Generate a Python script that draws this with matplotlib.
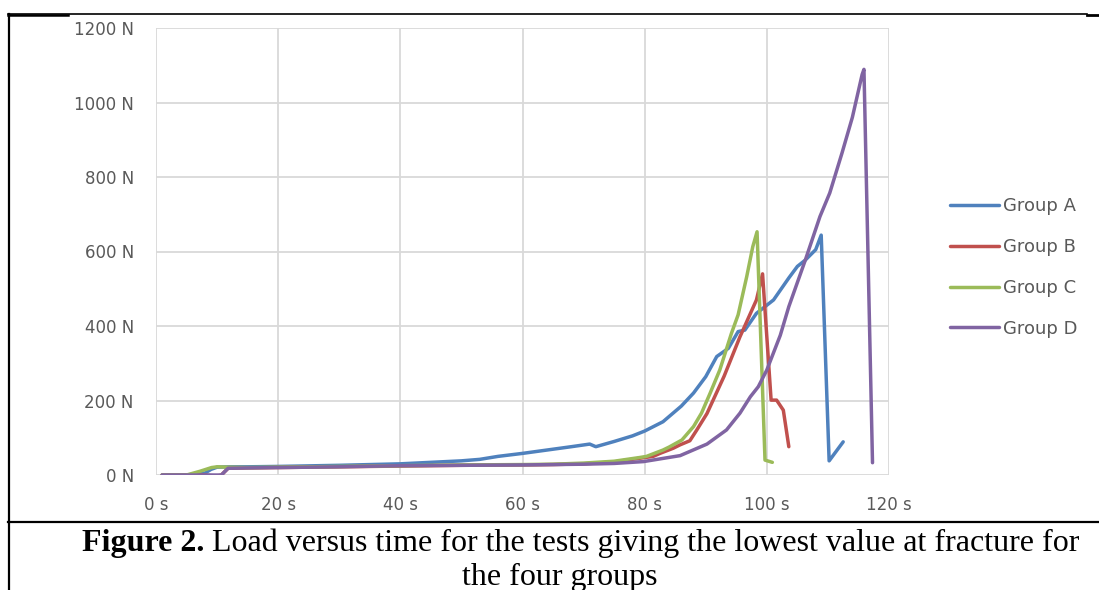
import numpy as np
import matplotlib
matplotlib.use('Agg')
import matplotlib.pyplot as plt
from matplotlib.lines import Line2D

# load vs time
t_a = [1, 5, 8, 9, 10, 12, 15, 20, 30, 40, 45, 50, 53, 56, 60, 64, 68, 71, 72, 75, 78, 80, 83,
       86, 88, 90, 91.8, 93.7, 95.3, 96.4, 98.3, 101.1, 103.6, 105, 106.3, 108, 108.9, 110.2, 112.5]
f_a = [0, 0, 5, 15, 21, 22, 22, 23, 26, 30, 34, 38, 42, 50, 58, 67, 76, 83, 76, 90, 105, 118, 143,
       185, 220, 264, 318, 340, 385, 389, 434, 470, 529, 560, 577, 605, 644, 38, 89]

t_b = [1, 5, 8, 10, 10.7, 11.8, 15, 20, 30, 40, 50, 60, 65, 70, 75, 79.2, 81.4, 82.5, 84.7, 85.8,
       87.4, 88.5, 90.2, 93, 95.6, 98.3, 99.3, 100.7, 101.6, 102.7, 103.6]
f_b = [0, 0, 0, -3, 0, 18, 19, 20, 22, 24, 26, 27, 28, 30, 35, 45, 50, 58, 72, 81,
       92, 120, 165, 265, 371, 470, 540, 201, 201, 174, 76]

t_c = [1, 5, 7.2, 9.1, 10, 12, 15, 20, 30, 40, 50, 60, 65, 70, 75, 79.2, 80.3, 83, 84, 86.1, 88,
       89.3, 90.7, 92.3, 94.2, 95.3, 96.7, 97.7, 98.4, 99.7, 100.9]
f_c = [0, 0, 10, 20, 22, 21, 20, 21, 23, 25, 27, 28, 29, 32, 37, 47, 50, 67, 75, 94, 130,
       166, 219, 282, 380, 430, 532, 613, 653, 40, 34]

t_d = [1, 5, 8, 10.7, 11.8, 15, 20, 30, 40, 50, 60, 70, 75, 79.8, 85.8, 90.2, 93.4, 95.6, 97.3,
       98.6, 100, 102.2, 103.6, 106.3, 108.7, 110.3, 112.3, 114, 115.6, 115.9, 117.3]
f_d = [0, 0, 0, 0, 18, 19, 20, 22, 25, 26, 27, 29, 31, 36, 52, 83, 121, 166, 210,
       237, 282, 375, 452, 577, 694, 757, 864, 960, 1075, 1089, 33]

groups = ['Group A', 'Group B', 'Group C', 'Group D']
colors = ['#4F81BD', '#C0504D', '#9BBB59', '#8064A2']

W, H = 1099, 590
fig = plt.figure(figsize=(W/100, H/100), dpi=100)
ax = fig.add_axes([156/W, 1 - 475/H, 733/W, 447/H])

for t, f, lab, c in zip([t_a, t_b, t_c, t_d], [f_a, f_b, f_c, f_d], groups, colors):
    ax.plot(t, f, color=c, lw=2.5, label=lab, solid_joinstyle='round', solid_capstyle='round')

ax.set_xlim(0, 120)
ax.set_ylim(0, 1200)
ax.set_xticks(np.arange(0, 121, 20))
ax.set_yticks(np.arange(0, 1201, 200))
ax.set_xticklabels([f'{v} s' for v in range(0, 121, 20)])
ax.set_yticklabels([f'{v} N' for v in range(0, 1201, 200)])
ax.grid(True, color='#D9D9D9', lw=1.3)
ax.set_axisbelow(True)
for s in ax.spines.values():
    s.set_visible(False)
ax.tick_params(length=0, labelsize=12, labelcolor='#595959')
ax.tick_params(axis='y', pad=16)
ax.tick_params(axis='x', pad=15)

leg = ax.legend(loc='upper left', bbox_to_anchor=(950/W, 1 - 197/H), bbox_transform=fig.transFigure,
                frameon=False, fontsize=13, handlelength=2.7, handletextpad=0.25,
                labelspacing=1.27, borderpad=0, borderaxespad=0)
for txt in leg.get_texts():
    txt.set_color('#595959')
for h in leg.get_lines():
    h.set_linewidth(2.5)

# frame lines of the figure box
def px_line(x0, y0, x1, y1, lw):
    fig.add_artist(Line2D([x0/W, x1/W], [1 - y0/H, 1 - y1/H], color='black', lw=lw,
                          transform=fig.transFigure))

px_line(8, 14, 1087, 14, 1.2)
px_line(8, 14.5, 68, 14.5, 1.8)
px_line(1087, 14.5, 1099, 14.5, 2)
px_line(8.5, 13.5, 8.5, 590, 1.6)
px_line(8, 522, 1099, 522, 1.6)

# caption, bold lead + normal text
serif = 'Liberation Serif'
fs = 23
lead = fig.text(82/W, 1 - 543/H, 'Figure 2.', fontsize=fs, family=serif, weight='bold',
                va='center', ha='left')
fig.canvas.draw()
bb = lead.get_window_extent()
fig.text(bb.x1/W, 1 - 543/H, ' Load versus time for the tests giving the lowest value at fracture for',
         fontsize=fs, family=serif, va='center', ha='left')
fig.text(560/W, 1 - 577/H, 'the four groups', fontsize=fs, family=serif, va='center', ha='center')

fig.savefig('out.png', dpi=100)
